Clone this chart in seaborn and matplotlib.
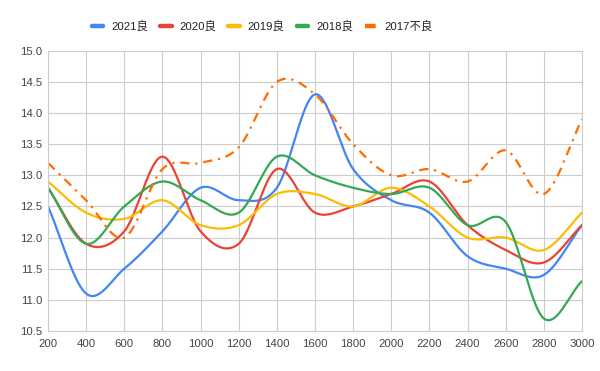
import numpy as np
import pandas as pd
import matplotlib
matplotlib.use("Agg")
import matplotlib.pyplot as plt
import seaborn as sns
from matplotlib.lines import Line2D

# ---- data ----
x_vals = [200, 400, 600, 800, 1000, 1200, 1400, 1600, 1800, 2000, 2200, 2400, 2600, 2800, 3000]
s2021 = [12.5, 11.1, 11.5, 12.1, 12.8, 12.6, 12.8, 14.3, 13.1, 12.6, 12.4, 11.7, 11.5, 11.4, 12.2]
s2020 = [12.8, 11.9, 12.1, 13.3, 12.1, 11.9, 13.1, 12.4, 12.5, 12.7, 12.9, 12.2, 11.8, 11.6, 12.2]
s2019 = [12.9, 12.4, 12.3, 12.6, 12.2, 12.2, 12.7, 12.7, 12.5, 12.8, 12.5, 12.0, 12.0, 11.8, 12.4]
s2018 = [12.8, 11.9, 12.5, 12.9, 12.6, 12.4, 13.3, 13.0, 12.8, 12.7, 12.8, 12.2, 12.25, 10.7, 11.3]
s2017 = [13.2, 12.6, 12.0, 13.1, 13.2, 13.45, 14.5, 14.3, 13.5, 13.0, 13.1, 12.9, 13.4, 12.7, 13.9]
series_names = ["2021良", "2020良", "2019良", "2018良", "2017不良"]
series_vals = [s2021, s2020, s2019, s2018, s2017]
colors = ["#4285F4", "#EA4335", "#FBBC04", "#34A853", "#FF6D01"]
y_ticks = [10.5, 11.0, 11.5, 12.0, 12.5, 13.0, 13.5, 14.0, 14.5, 15.0]


def smooth(xs, ys, n=40):
    xs = np.asarray(xs, float)
    ys = np.asarray(ys, float)
    m = np.zeros_like(ys)
    m[1:-1] = (ys[2:] - ys[:-2]) / (xs[2:] - xs[:-2])
    m[0] = (ys[1] - ys[0]) / (xs[1] - xs[0])
    m[-1] = (ys[-1] - ys[-2]) / (xs[-1] - xs[-2])
    ox, oy = [], []
    for i in range(len(xs) - 1):
        h = xs[i + 1] - xs[i]
        t = np.linspace(0, 1, n, endpoint=False)
        h00 = 2 * t**3 - 3 * t**2 + 1
        h10 = t**3 - 2 * t**2 + t
        h01 = -2 * t**3 + 3 * t**2
        h11 = t**3 - t**2
        oy.extend(h00 * ys[i] + h10 * h * m[i] + h01 * ys[i + 1] + h11 * h * m[i + 1])
        ox.extend(xs[i] + t * h)
    ox.append(xs[-1])
    oy.append(ys[-1])
    return np.array(ox), np.array(oy)


sns.set_theme(style="white")
plt.rcParams["font.family"] = ["Liberation Sans", "Noto Sans CJK JP", "DejaVu Sans"]

fig = plt.figure(figsize=(6, 3.71), dpi=100)
ax = fig.add_axes([0.08, 0.108, 0.89, 0.755])

for name, vals, c in zip(series_names, series_vals, colors):
    sx, sy = smooth(x_vals, vals)
    df = pd.DataFrame({"x": sx, "y": sy})
    sns.lineplot(data=df, x="x", y="y", ax=ax, color=c, linewidth=1.6,
                 estimator=None, sort=False)
    if name == "2017不良":
        ax.lines[-1].set_linestyle((0, (4.2, 2.6, 1.0, 2.6)))

ax.set_xlim(200, 3000)
ax.set_ylim(10.5, 15.0)
ax.set_xticks(x_vals)
ax.set_xticklabels([str(v) for v in x_vals])
ax.set_yticks(y_ticks)
ax.set_yticklabels([f"{v:.1f}" for v in y_ticks])
ax.grid(True, color="#cccccc", linewidth=0.8)
ax.set_axisbelow(True)
for sp in ax.spines.values():
    sp.set_color("#cccccc")
    sp.set_linewidth(0.8)
ax.tick_params(axis="both", length=0, labelsize=8.2, colors="#444444")
ax.tick_params(axis="x", pad=6)
ax.tick_params(axis="y", pad=4)
ax.set_xlabel("")
ax.set_ylabel("")

handles = []
for name, c in zip(series_names, colors):
    if name == "2017不良":
        h = Line2D([], [], color=c, linewidth=3.2, linestyle=(0, (2.4, 1.0, 0.6, 1.0)))
    else:
        h = Line2D([], [], color=c, linewidth=3.2)
    handles.append(h)
fig.legend(handles, series_names, loc="center", bbox_to_anchor=(0.437, 0.93),
           ncol=5, frameon=False, fontsize=8.2, handlelength=1.0,
           handletextpad=0.7, columnspacing=1.05, labelcolor="#222222")

fig.savefig("out.png", dpi=100)
